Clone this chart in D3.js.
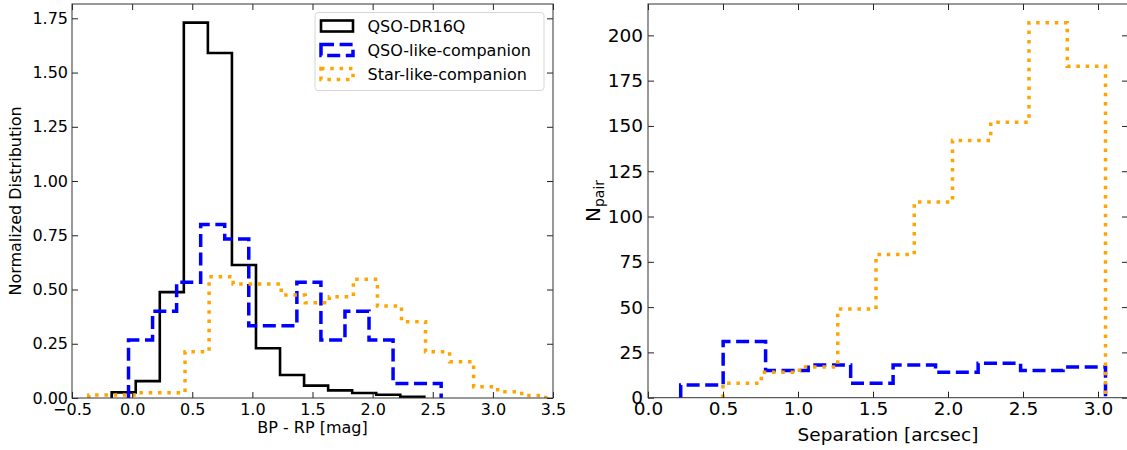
<!DOCTYPE html>
<html>
<head>
<meta charset="utf-8">
<script src="https://cdn.jsdelivr.net/npm/d3@7"></script>
<style>
  body { margin: 0; background: #fff; }
  text { font-family: "DejaVu Sans", sans-serif; fill: #000; }
</style>
</head>
<body>
<div id="container"></div>
<script>
//left panel: colour histograms (bin edges + normalized heights)
const dr16qEdges = [-0.17, 0.03, 0.23, 0.43, 0.63, 0.83, 1.03, 1.23, 1.43, 1.63, 1.83, 2.03, 2.23, 2.43]
const dr16qDens = [0.026, 0.078, 0.488, 1.73, 1.59, 0.613, 0.229, 0.106, 0.057, 0.035, 0.023, 0.015, 0.006]

const qsoLikeEdges = [-0.03, 0.17, 0.37, 0.57, 0.77, 0.97, 1.17, 1.37, 1.57, 1.77, 1.97, 2.17, 2.37, 2.57]
const qsoLikeDens = [0.267, 0.4, 0.533, 0.8, 0.733, 0.333, 0.333, 0.533, 0.267, 0.4, 0.267, 0.067, 0.067]

const starLikeEdges = [-0.36, -0.16, 0.04, 0.24, 0.44, 0.64, 0.84, 1.04, 1.24, 1.44, 1.64, 1.84, 2.04, 2.24, 2.44, 2.64, 2.84, 3.04, 3.24, 3.44]
const starLikeDens = [0.014, 0.014, 0.024, 0.024, 0.213, 0.559, 0.525, 0.525, 0.475, 0.439, 0.467, 0.547, 0.424, 0.352, 0.213, 0.167, 0.052, 0.029, 0.011]

//right panel: separation histograms (bin edges + pair counts)
const qsoSepEdges = [0.218, 0.501, 0.784, 1.068, 1.351, 1.634, 1.917, 2.201, 2.484, 2.767, 3.05]
const qsoSepCounts = [7, 31, 15, 18, 8, 18, 14, 19, 15, 17]

const starSepEdges = [0.5, 0.755, 1.01, 1.265, 1.52, 1.775, 2.03, 2.285, 2.54, 2.795, 3.05]
const starSepCounts = [8, 14, 17, 49, 79, 108, 142, 152, 207, 183]

//ticks
const leftXTicks = [-0.5, 0, 0.5, 1, 1.5, 2, 2.5, 3, 3.5]
const leftYTicks = [0, 0.25, 0.5, 0.75, 1, 1.25, 1.5, 1.75]
const rightXTicks = [0, 0.5, 1, 1.5, 2, 2.5, 3]
const rightYTicks = [0, 25, 50, 75, 100, 125, 150, 175, 200]

const legendNames = ["QSO-DR16Q", "QSO-like-companion", "Star-like-companion"]

const width = 1127, height = 450

let svg = d3.select("#container")
    .append("svg")
    .attr("width", width)
    .attr("height", height)

svg.append("rect").attr("width", width).attr("height", height).attr("fill", "#fff")

//line styles
const styles = {
    black:  {stroke: "#000", width: 2.6, dash: null},
    blue:   {stroke: "#0000ff", width: 3.5, dash: "13,5.6"},
    orange: {stroke: "#ffa500", width: 3.5, dash: "3.5,5.8"}
}

//outline of a step histogram, open at the bottom like histtype='step'
function stepPoints(edges, vals) {
    let pts = [[edges[0], 0]]
    vals.forEach((v, i) => {
        pts.push([edges[i], v])
        pts.push([edges[i + 1], v])
    })
    pts.push([edges[edges.length - 1], 0])
    return pts
}

function drawStep(g, x, y, edges, vals, st) {
    let line = d3.line().x(d => x(d[0])).y(d => y(d[1]))
    g.append("path")
        .datum(stepPoints(edges, vals))
        .attr("d", line)
        .attr("fill", "none")
        .attr("stroke", st.stroke)
        .attr("stroke-width", st.width)
        .attr("stroke-dasharray", st.dash)
        .attr("stroke-linejoin", "miter")
        .attr("stroke-linecap", "butt")
}

//frame + inward ticks on all four sides
function drawAxes(x, y, xt, yt, xfmt, yfmt, fs, padX, padY) {
    const [x0, x1] = x.range(), [y0, y1] = y.range()
    const tl = 6

    svg.append("g").attr("transform", `translate(0,${y0})`)
        .call(d3.axisBottom(x).tickValues(xt).tickFormat(xfmt).tickSize(-tl).tickPadding(padX))
        .call(g => g.select(".domain").remove())
        .call(g => g.selectAll("text").style("font-size", fs + "px").attr("fill", "#000"))
    svg.append("g").attr("transform", `translate(0,${y1})`)
        .call(d3.axisTop(x).tickValues(xt).tickFormat("").tickSize(-tl))
        .call(g => g.select(".domain").remove())
    svg.append("g").attr("transform", `translate(${x0},0)`)
        .call(d3.axisLeft(y).tickValues(yt).tickFormat(yfmt).tickSize(-tl).tickPadding(padY))
        .call(g => g.select(".domain").remove())
        .call(g => g.selectAll("text").style("font-size", fs + "px").attr("fill", "#000"))
    svg.append("g").attr("transform", `translate(${x1},0)`)
        .call(d3.axisRight(y).tickValues(yt).tickFormat("").tickSize(-tl))
        .call(g => g.select(".domain").remove())

    svg.selectAll(".tick line").attr("stroke", "#222")
    svg.append("rect")
        .attr("x", x0).attr("y", y1)
        .attr("width", x1 - x0).attr("height", y0 - y1)
        .attr("fill", "none").attr("stroke", "#333").attr("stroke-width", 1)
}

const minus = s => s.replace("-", "\u2212")

// ---------- left panel ----------
let xL = d3.scaleLinear().domain([-0.5, 3.5]).range([72, 553])
let yL = d3.scaleLinear().domain([0, 1.816]).range([398, 4])

let gL = svg.append("g")
drawStep(gL, xL, yL, dr16qEdges, dr16qDens, styles.black)
drawStep(gL, xL, yL, qsoLikeEdges, qsoLikeDens, styles.blue)
drawStep(gL, xL, yL, starLikeEdges, starLikeDens, styles.orange)

drawAxes(xL, yL, leftXTicks, leftYTicks, d => minus(d3.format(".1f")(d)), d3.format(".2f"), 16, 6, 4)

svg.append("text")
    .attr("x", 312.5).attr("y", 433)
    .attr("text-anchor", "middle")
    .style("font-size", "16px")
    .text("BP - RP [mag]")

svg.append("text")
    .attr("transform", "translate(21,201) rotate(-90)")
    .attr("text-anchor", "middle")
    .style("font-size", "16px")
    .text("Normalized Distribution")

//legend
let leg = svg.append("g")
leg.append("rect")
    .attr("x", 315).attr("y", 12.5)
    .attr("width", 229).attr("height", 78)
    .attr("rx", 3)
    .attr("fill", "#fff").attr("fill-opacity", 0.8)
    .attr("stroke", "#d6d6d6").attr("stroke-width", 1)

const legStyles = [styles.black, styles.blue, styles.orange]
legendNames.forEach((name, i) => {
    const cy = 26 + i * 24
    const st = legStyles[i]
    leg.append("rect")
        .attr("x", 321).attr("y", cy - 5.5)
        .attr("width", 32).attr("height", 11)
        .attr("fill", "none")
        .attr("stroke", st.stroke)
        .attr("stroke-width", st.width)
        .attr("stroke-dasharray", st.dash)
    leg.append("text")
        .attr("x", 367.5).attr("y", cy + 6)
        .style("font-size", "16px")
        .text(name)
})

// ---------- right panel ----------
let xR = d3.scaleLinear().domain([0, 3.2]).range([648, 1128])
let yR = d3.scaleLinear().domain([0, 217.3]).range([397.7, 4])

let gR = svg.append("g")
drawStep(gR, xR, yR, qsoSepEdges, qsoSepCounts, styles.blue)
drawStep(gR, xR, yR, starSepEdges, starSepCounts, styles.orange)

drawAxes(xR, yR, rightXTicks, rightYTicks, d3.format(".1f"), d3.format("d"), 18.5, 4.5, 5)

svg.append("text")
    .attr("x", 888).attr("y", 441)
    .attr("text-anchor", "middle")
    .style("font-size", "18.5px")
    .text("Separation [arcsec]")

let npair = svg.append("text")
    .attr("transform", "translate(600,201) rotate(-90)")
    .attr("text-anchor", "middle")
    .style("font-size", "20px")
npair.append("tspan").text("N")
npair.append("tspan").attr("dy", 4).style("font-size", "14px").text("pair")
</script>
</body>
</html>
